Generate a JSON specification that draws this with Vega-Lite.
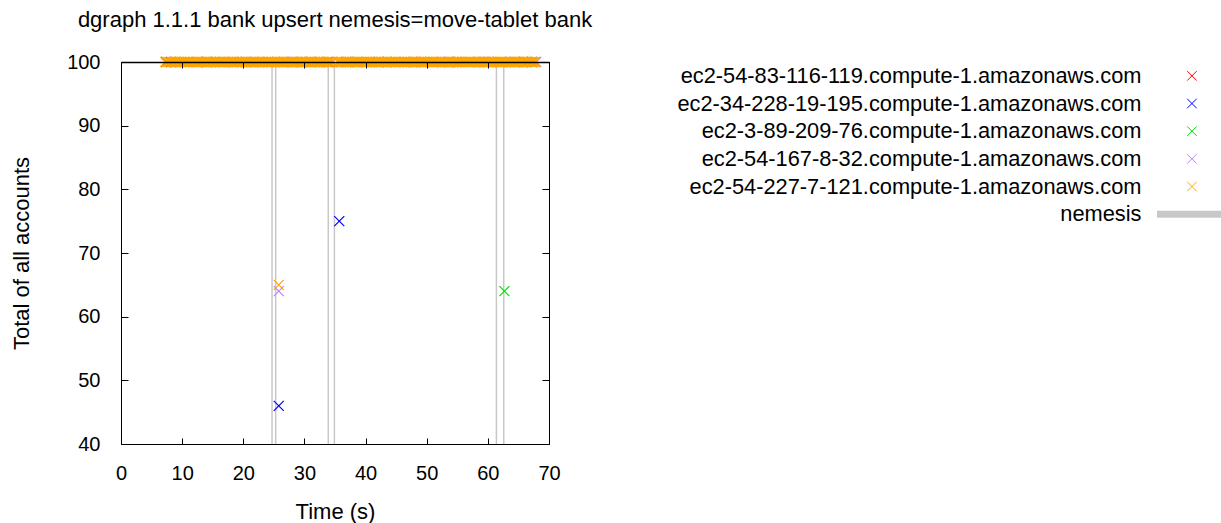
{
  "$schema": "https://vega.github.io/schema/vega-lite/v6.json",
  "autosize": {"type": "none"},
  "padding": {"left": 121, "top": 62, "right": 1100, "bottom": 461},
  "bounds": "flush",
  "spacing": 551,
  "config": {
    "font": "Liberation Sans",
    "axis": {"grid": false, "domain": false, "labelFlush": false, "labelFont": "Liberation Sans", "labelFontSize": 20, "labelColor": "#000", "tickColor": "#000", "tickWidth": 1, "titleFont": "Liberation Sans", "titleFontSize": 22, "titleFontWeight": "normal", "titleColor": "#000"}
  },
  "datasets": {
    "nemesis": [{"t": 24.7}, {"t": 25.3}, {"t": 33.9}, {"t": 34.9}, {"t": 61.4}, {"t": 62.6}],
    "legend": [
      {"s": "n1", "label": "ec2-54-83-116-119.compute-1.amazonaws.com"},
      {"s": "n2", "label": "ec2-34-228-19-195.compute-1.amazonaws.com"},
      {"s": "n3", "label": "ec2-3-89-209-76.compute-1.amazonaws.com"},
      {"s": "n4", "label": "ec2-54-167-8-32.compute-1.amazonaws.com"},
      {"s": "n5", "label": "ec2-54-227-7-121.compute-1.amazonaws.com"},
      {"s": "nemesis", "label": "nemesis"}
    ],
    "points": [
      {"t": 7.4, "v": 100, "s": "n1"}, {"t": 12.5, "v": 100, "s": "n1"}, {"t": 18.3, "v": 100, "s": "n1"}, {"t": 24.0, "v": 100, "s": "n1"}, {"t": 29.6, "v": 100, "s": "n1"}, {"t": 33.8, "v": 100, "s": "n1"}, {"t": 37.2, "v": 100, "s": "n1"}, {"t": 43.5, "v": 100, "s": "n1"}, {"t": 49.1, "v": 100, "s": "n1"}, {"t": 55.0, "v": 100, "s": "n1"}, {"t": 60.2, "v": 100, "s": "n1"}, {"t": 65.8, "v": 100, "s": "n1"},
      {"t": 8.2, "v": 100, "s": "n2"}, {"t": 14.1, "v": 100, "s": "n2"}, {"t": 20.5, "v": 100, "s": "n2"}, {"t": 26.6, "v": 100, "s": "n2"}, {"t": 31.0, "v": 100, "s": "n2"}, {"t": 36.8, "v": 100, "s": "n2"}, {"t": 42.2, "v": 100, "s": "n2"}, {"t": 48.0, "v": 100, "s": "n2"}, {"t": 53.7, "v": 100, "s": "n2"}, {"t": 59.3, "v": 100, "s": "n2"}, {"t": 64.5, "v": 100, "s": "n2"}, {"t": 67.2, "v": 100, "s": "n2"},
      {"t": 25.8, "v": 46, "s": "n2"}, {"t": 35.7, "v": 75, "s": "n2"},
      {"t": 9.0, "v": 100, "s": "n3"}, {"t": 15.4, "v": 100, "s": "n3"}, {"t": 21.7, "v": 100, "s": "n3"}, {"t": 27.9, "v": 100, "s": "n3"}, {"t": 32.5, "v": 100, "s": "n3"}, {"t": 38.6, "v": 100, "s": "n3"}, {"t": 44.8, "v": 100, "s": "n3"}, {"t": 51.0, "v": 100, "s": "n3"}, {"t": 57.1, "v": 100, "s": "n3"}, {"t": 62.1, "v": 100, "s": "n3"}, {"t": 66.4, "v": 100, "s": "n3"},
      {"t": 62.7, "v": 64, "s": "n3"},
      {"t": 8.8, "v": 100, "s": "n4"}, {"t": 16.2, "v": 100, "s": "n4"}, {"t": 23.1, "v": 100, "s": "n4"}, {"t": 28.7, "v": 100, "s": "n4"}, {"t": 34.6, "v": 100, "s": "n4"}, {"t": 40.3, "v": 100, "s": "n4"}, {"t": 46.5, "v": 100, "s": "n4"}, {"t": 52.6, "v": 100, "s": "n4"}, {"t": 58.4, "v": 100, "s": "n4"}, {"t": 63.7, "v": 100, "s": "n4"}, {"t": 67.9, "v": 100, "s": "n4"},
      {"t": 25.8, "v": 64, "s": "n4"},
      {"t": 25.8, "v": 65, "s": "n5"},
      {"t": 7.25, "v": 100, "s": "n5"}, {"t": 7.5, "v": 100, "s": "n5"}, {"t": 7.75, "v": 100, "s": "n5"}, {"t": 8, "v": 100, "s": "n5"}, {"t": 8.25, "v": 100, "s": "n5"}, {"t": 8.5, "v": 100, "s": "n5"}, {"t": 8.75, "v": 100, "s": "n5"}, {"t": 9, "v": 100, "s": "n5"},
      {"t": 9.25, "v": 100, "s": "n5"}, {"t": 9.5, "v": 100, "s": "n5"}, {"t": 9.75, "v": 100, "s": "n5"}, {"t": 10, "v": 100, "s": "n5"}, {"t": 10.25, "v": 100, "s": "n5"}, {"t": 10.5, "v": 100, "s": "n5"}, {"t": 10.75, "v": 100, "s": "n5"}, {"t": 11, "v": 100, "s": "n5"},
      {"t": 11.25, "v": 100, "s": "n5"}, {"t": 11.5, "v": 100, "s": "n5"}, {"t": 11.75, "v": 100, "s": "n5"}, {"t": 12, "v": 100, "s": "n5"}, {"t": 12.25, "v": 100, "s": "n5"}, {"t": 12.5, "v": 100, "s": "n5"}, {"t": 12.75, "v": 100, "s": "n5"}, {"t": 13, "v": 100, "s": "n5"},
      {"t": 13.25, "v": 100, "s": "n5"}, {"t": 13.5, "v": 100, "s": "n5"}, {"t": 13.75, "v": 100, "s": "n5"}, {"t": 14, "v": 100, "s": "n5"}, {"t": 14.25, "v": 100, "s": "n5"}, {"t": 14.5, "v": 100, "s": "n5"}, {"t": 14.75, "v": 100, "s": "n5"}, {"t": 15, "v": 100, "s": "n5"},
      {"t": 15.25, "v": 100, "s": "n5"}, {"t": 15.5, "v": 100, "s": "n5"}, {"t": 15.75, "v": 100, "s": "n5"}, {"t": 16, "v": 100, "s": "n5"}, {"t": 16.25, "v": 100, "s": "n5"}, {"t": 16.5, "v": 100, "s": "n5"}, {"t": 16.75, "v": 100, "s": "n5"}, {"t": 17, "v": 100, "s": "n5"},
      {"t": 17.25, "v": 100, "s": "n5"}, {"t": 17.5, "v": 100, "s": "n5"}, {"t": 17.75, "v": 100, "s": "n5"}, {"t": 18, "v": 100, "s": "n5"}, {"t": 18.25, "v": 100, "s": "n5"}, {"t": 18.5, "v": 100, "s": "n5"}, {"t": 18.75, "v": 100, "s": "n5"}, {"t": 19, "v": 100, "s": "n5"},
      {"t": 19.25, "v": 100, "s": "n5"}, {"t": 19.5, "v": 100, "s": "n5"}, {"t": 19.75, "v": 100, "s": "n5"}, {"t": 20, "v": 100, "s": "n5"}, {"t": 20.25, "v": 100, "s": "n5"}, {"t": 20.5, "v": 100, "s": "n5"}, {"t": 20.75, "v": 100, "s": "n5"}, {"t": 21, "v": 100, "s": "n5"},
      {"t": 21.25, "v": 100, "s": "n5"}, {"t": 21.5, "v": 100, "s": "n5"}, {"t": 21.75, "v": 100, "s": "n5"}, {"t": 22, "v": 100, "s": "n5"}, {"t": 22.25, "v": 100, "s": "n5"}, {"t": 22.5, "v": 100, "s": "n5"}, {"t": 22.75, "v": 100, "s": "n5"}, {"t": 23, "v": 100, "s": "n5"},
      {"t": 23.25, "v": 100, "s": "n5"}, {"t": 23.5, "v": 100, "s": "n5"}, {"t": 23.75, "v": 100, "s": "n5"}, {"t": 24, "v": 100, "s": "n5"}, {"t": 24.25, "v": 100, "s": "n5"}, {"t": 24.5, "v": 100, "s": "n5"}, {"t": 24.75, "v": 100, "s": "n5"}, {"t": 25, "v": 100, "s": "n5"},
      {"t": 25.25, "v": 100, "s": "n5"}, {"t": 25.5, "v": 100, "s": "n5"}, {"t": 25.75, "v": 100, "s": "n5"}, {"t": 26, "v": 100, "s": "n5"}, {"t": 26.25, "v": 100, "s": "n5"}, {"t": 26.5, "v": 100, "s": "n5"}, {"t": 26.75, "v": 100, "s": "n5"}, {"t": 27, "v": 100, "s": "n5"},
      {"t": 27.25, "v": 100, "s": "n5"}, {"t": 27.5, "v": 100, "s": "n5"}, {"t": 27.75, "v": 100, "s": "n5"}, {"t": 28, "v": 100, "s": "n5"}, {"t": 28.25, "v": 100, "s": "n5"}, {"t": 28.5, "v": 100, "s": "n5"}, {"t": 28.75, "v": 100, "s": "n5"}, {"t": 29, "v": 100, "s": "n5"},
      {"t": 29.25, "v": 100, "s": "n5"}, {"t": 29.5, "v": 100, "s": "n5"}, {"t": 29.75, "v": 100, "s": "n5"}, {"t": 30, "v": 100, "s": "n5"}, {"t": 30.25, "v": 100, "s": "n5"}, {"t": 30.5, "v": 100, "s": "n5"}, {"t": 30.75, "v": 100, "s": "n5"}, {"t": 31, "v": 100, "s": "n5"},
      {"t": 31.25, "v": 100, "s": "n5"}, {"t": 31.5, "v": 100, "s": "n5"}, {"t": 31.75, "v": 100, "s": "n5"}, {"t": 32, "v": 100, "s": "n5"}, {"t": 32.25, "v": 100, "s": "n5"}, {"t": 32.5, "v": 100, "s": "n5"}, {"t": 32.75, "v": 100, "s": "n5"}, {"t": 33, "v": 100, "s": "n5"},
      {"t": 33.25, "v": 100, "s": "n5"}, {"t": 33.5, "v": 100, "s": "n5"}, {"t": 33.75, "v": 100, "s": "n5"}, {"t": 34, "v": 100, "s": "n5"}, {"t": 34.25, "v": 100, "s": "n5"}, {"t": 34.5, "v": 100, "s": "n5"},
      {"t": 35.5, "v": 100, "s": "n5"}, {"t": 35.75, "v": 100, "s": "n5"}, {"t": 36, "v": 100, "s": "n5"}, {"t": 36.25, "v": 100, "s": "n5"}, {"t": 36.5, "v": 100, "s": "n5"}, {"t": 36.75, "v": 100, "s": "n5"}, {"t": 37, "v": 100, "s": "n5"},
      {"t": 37.25, "v": 100, "s": "n5"}, {"t": 37.5, "v": 100, "s": "n5"}, {"t": 37.75, "v": 100, "s": "n5"}, {"t": 38, "v": 100, "s": "n5"}, {"t": 38.25, "v": 100, "s": "n5"}, {"t": 38.5, "v": 100, "s": "n5"}, {"t": 38.75, "v": 100, "s": "n5"}, {"t": 39, "v": 100, "s": "n5"},
      {"t": 39.25, "v": 100, "s": "n5"}, {"t": 39.5, "v": 100, "s": "n5"}, {"t": 39.75, "v": 100, "s": "n5"}, {"t": 40, "v": 100, "s": "n5"}, {"t": 40.25, "v": 100, "s": "n5"}, {"t": 40.5, "v": 100, "s": "n5"}, {"t": 40.75, "v": 100, "s": "n5"}, {"t": 41, "v": 100, "s": "n5"},
      {"t": 41.25, "v": 100, "s": "n5"}, {"t": 41.5, "v": 100, "s": "n5"}, {"t": 41.75, "v": 100, "s": "n5"}, {"t": 42, "v": 100, "s": "n5"}, {"t": 42.25, "v": 100, "s": "n5"}, {"t": 42.5, "v": 100, "s": "n5"}, {"t": 42.75, "v": 100, "s": "n5"}, {"t": 43, "v": 100, "s": "n5"},
      {"t": 43.25, "v": 100, "s": "n5"}, {"t": 43.5, "v": 100, "s": "n5"}, {"t": 43.75, "v": 100, "s": "n5"}, {"t": 44, "v": 100, "s": "n5"}, {"t": 44.25, "v": 100, "s": "n5"}, {"t": 44.5, "v": 100, "s": "n5"}, {"t": 44.75, "v": 100, "s": "n5"}, {"t": 45, "v": 100, "s": "n5"},
      {"t": 45.25, "v": 100, "s": "n5"}, {"t": 45.5, "v": 100, "s": "n5"}, {"t": 45.75, "v": 100, "s": "n5"}, {"t": 46, "v": 100, "s": "n5"}, {"t": 46.25, "v": 100, "s": "n5"}, {"t": 46.5, "v": 100, "s": "n5"}, {"t": 46.75, "v": 100, "s": "n5"}, {"t": 47, "v": 100, "s": "n5"},
      {"t": 47.25, "v": 100, "s": "n5"}, {"t": 47.5, "v": 100, "s": "n5"}, {"t": 47.75, "v": 100, "s": "n5"}, {"t": 48, "v": 100, "s": "n5"}, {"t": 48.25, "v": 100, "s": "n5"}, {"t": 48.5, "v": 100, "s": "n5"}, {"t": 48.75, "v": 100, "s": "n5"}, {"t": 49, "v": 100, "s": "n5"},
      {"t": 49.25, "v": 100, "s": "n5"}, {"t": 49.5, "v": 100, "s": "n5"}, {"t": 49.75, "v": 100, "s": "n5"}, {"t": 50, "v": 100, "s": "n5"}, {"t": 50.25, "v": 100, "s": "n5"}, {"t": 50.5, "v": 100, "s": "n5"}, {"t": 50.75, "v": 100, "s": "n5"}, {"t": 51, "v": 100, "s": "n5"},
      {"t": 51.25, "v": 100, "s": "n5"}, {"t": 51.5, "v": 100, "s": "n5"}, {"t": 51.75, "v": 100, "s": "n5"}, {"t": 52, "v": 100, "s": "n5"}, {"t": 52.25, "v": 100, "s": "n5"}, {"t": 52.5, "v": 100, "s": "n5"}, {"t": 52.75, "v": 100, "s": "n5"}, {"t": 53, "v": 100, "s": "n5"},
      {"t": 53.25, "v": 100, "s": "n5"}, {"t": 53.5, "v": 100, "s": "n5"}, {"t": 53.75, "v": 100, "s": "n5"}, {"t": 54, "v": 100, "s": "n5"}, {"t": 54.25, "v": 100, "s": "n5"}, {"t": 54.5, "v": 100, "s": "n5"}, {"t": 54.75, "v": 100, "s": "n5"}, {"t": 55, "v": 100, "s": "n5"},
      {"t": 55.25, "v": 100, "s": "n5"}, {"t": 55.5, "v": 100, "s": "n5"}, {"t": 55.75, "v": 100, "s": "n5"}, {"t": 56, "v": 100, "s": "n5"}, {"t": 56.25, "v": 100, "s": "n5"}, {"t": 56.5, "v": 100, "s": "n5"}, {"t": 56.75, "v": 100, "s": "n5"}, {"t": 57, "v": 100, "s": "n5"},
      {"t": 57.25, "v": 100, "s": "n5"}, {"t": 57.5, "v": 100, "s": "n5"}, {"t": 57.75, "v": 100, "s": "n5"}, {"t": 58, "v": 100, "s": "n5"}, {"t": 58.25, "v": 100, "s": "n5"}, {"t": 58.5, "v": 100, "s": "n5"}, {"t": 58.75, "v": 100, "s": "n5"}, {"t": 59, "v": 100, "s": "n5"},
      {"t": 59.25, "v": 100, "s": "n5"}, {"t": 59.5, "v": 100, "s": "n5"}, {"t": 59.75, "v": 100, "s": "n5"}, {"t": 60, "v": 100, "s": "n5"}, {"t": 60.25, "v": 100, "s": "n5"}, {"t": 60.5, "v": 100, "s": "n5"}, {"t": 60.75, "v": 100, "s": "n5"}, {"t": 61, "v": 100, "s": "n5"},
      {"t": 61.25, "v": 100, "s": "n5"}, {"t": 61.5, "v": 100, "s": "n5"}, {"t": 61.75, "v": 100, "s": "n5"}, {"t": 62, "v": 100, "s": "n5"}, {"t": 62.25, "v": 100, "s": "n5"}, {"t": 62.5, "v": 100, "s": "n5"}, {"t": 62.75, "v": 100, "s": "n5"}, {"t": 63, "v": 100, "s": "n5"},
      {"t": 63.25, "v": 100, "s": "n5"}, {"t": 63.5, "v": 100, "s": "n5"}, {"t": 63.75, "v": 100, "s": "n5"}, {"t": 64, "v": 100, "s": "n5"}, {"t": 64.25, "v": 100, "s": "n5"}, {"t": 64.5, "v": 100, "s": "n5"}, {"t": 64.75, "v": 100, "s": "n5"}, {"t": 65, "v": 100, "s": "n5"},
      {"t": 65.25, "v": 100, "s": "n5"}, {"t": 65.5, "v": 100, "s": "n5"}, {"t": 65.75, "v": 100, "s": "n5"}, {"t": 66, "v": 100, "s": "n5"}, {"t": 66.25, "v": 100, "s": "n5"}, {"t": 66.5, "v": 100, "s": "n5"}, {"t": 66.75, "v": 100, "s": "n5"}, {"t": 67, "v": 100, "s": "n5"},
      {"t": 67.25, "v": 100, "s": "n5"}, {"t": 67.5, "v": 100, "s": "n5"}, {"t": 67.75, "v": 100, "s": "n5"}
    ]
  },
  "hconcat": [
    {
      "width": 428,
      "height": 382,
      "view": {"stroke": "#000", "strokeWidth": 1},
      "title": {"text": "dgraph 1.1.1 bank upsert nemesis=move-tablet bank", "font": "Liberation Sans", "fontSize": 22, "fontWeight": "normal", "color": "#000", "anchor": "middle", "frame": "group", "offset": 20},
      "layer": [
        {
          "data": {"name": "nemesis"},
          "mark": {"type": "rule", "color": "#c8c8c8", "strokeWidth": 1.5},
          "encoding": {
            "x": {"field": "t", "type": "quantitative", "scale": {"domain": [0, 70], "nice": false}, "axis": null}
          }
        },
        {
          "data": {"name": "points"},
          "mark": {"type": "point", "shape": "M-1,-1L1,1M1,-1L-1,1", "filled": false, "strokeWidth": 1.2, "size": 100, "opacity": 1},
          "encoding": {
            "x": {"field": "t", "type": "quantitative", "scale": {"domain": [0, 70], "nice": false},
                  "axis": {"orient": "bottom", "values": [0, 10, 20, 30, 40, 50, 60, 70], "tickSize": -6, "labelPadding": 25, "title": "Time (s)", "titlePadding": 18}},
            "y": {"field": "v", "type": "quantitative", "scale": {"domain": [40, 100], "nice": false, "zero": false},
                  "axis": {"orient": "left", "values": [40, 50, 60, 70, 80, 90, 100], "tickSize": -7, "labelPadding": 28, "title": "Total of all accounts", "titlePadding": 33}},
            "color": {"field": "s", "type": "nominal", "scale": {"domain": ["n1", "n2", "n3", "n4", "n5"], "range": ["#ff0000", "#0000ff", "#00e000", "#c080ff", "#ffa500"]}, "legend": null}
          }
        },
        {
          "data": {"name": "points"},
          "mark": {"type": "point", "opacity": 0},
          "encoding": {
            "x": {"field": "t", "type": "quantitative", "scale": {"domain": [0, 70], "nice": false},
                  "axis": {"orient": "top", "values": [0, 10, 20, 30, 40, 50, 60, 70], "tickSize": -6, "labels": false, "title": null, "domain": true, "domainColor": "#000", "domainWidth": 1.5, "zindex": 2}},
            "y": {"field": "v", "type": "quantitative", "scale": {"domain": [40, 100], "nice": false, "zero": false},
                  "axis": {"orient": "right", "values": [40, 50, 60, 70, 80, 90, 100], "tickSize": -7, "labels": false, "title": null}}
          }
        }
      ],
      "resolve": {"axis": {"x": "independent", "y": "independent"}}
    },
    {
      "width": 121,
      "height": 166,
      "view": {"stroke": null},
      "data": {"name": "legend"},
      "layer": [
        {
          "mark": {"type": "text", "align": "right", "baseline": "middle", "font": "Liberation Sans", "fontSize": 21.8, "color": "#000"},
          "encoding": {
            "x": {"datum": 0.343, "type": "quantitative", "scale": {"domain": [0, 1]}, "axis": null},
            "y": {"field": "label", "type": "nominal", "scale": {"type": "band", "domain": ["ec2-54-83-116-119.compute-1.amazonaws.com", "ec2-34-228-19-195.compute-1.amazonaws.com", "ec2-3-89-209-76.compute-1.amazonaws.com", "ec2-54-167-8-32.compute-1.amazonaws.com", "ec2-54-227-7-121.compute-1.amazonaws.com", "nemesis"], "paddingInner": 0, "paddingOuter": 0}, "axis": null},
            "text": {"field": "label"}
          }
        },
        {
          "transform": [{"filter": "datum.s != 'nemesis'"}],
          "mark": {"type": "point", "shape": "M-1,-1L1,1M1,-1L-1,1", "filled": false, "strokeWidth": 1, "size": 90, "opacity": 1},
          "encoding": {
            "x": {"datum": 0.76, "type": "quantitative", "scale": {"domain": [0, 1]}, "axis": null},
            "y": {"field": "label", "type": "nominal", "axis": null},
            "color": {"field": "s", "type": "nominal", "scale": {"domain": ["n1", "n2", "n3", "n4", "n5"], "range": ["#ff0000", "#0000ff", "#00e000", "#c080ff", "#ffa500"]}, "legend": null}
          }
        },
        {
          "transform": [{"filter": "datum.s == 'nemesis'"}],
          "mark": {"type": "rule", "color": "#c8c8c8", "strokeWidth": 7},
          "encoding": {
            "x": {"datum": 0.471, "type": "quantitative", "scale": {"domain": [0, 1]}, "axis": null},
            "x2": {"datum": 1},
            "y": {"field": "label", "type": "nominal", "axis": null}
          }
        }
      ]
    }
  ]
}
